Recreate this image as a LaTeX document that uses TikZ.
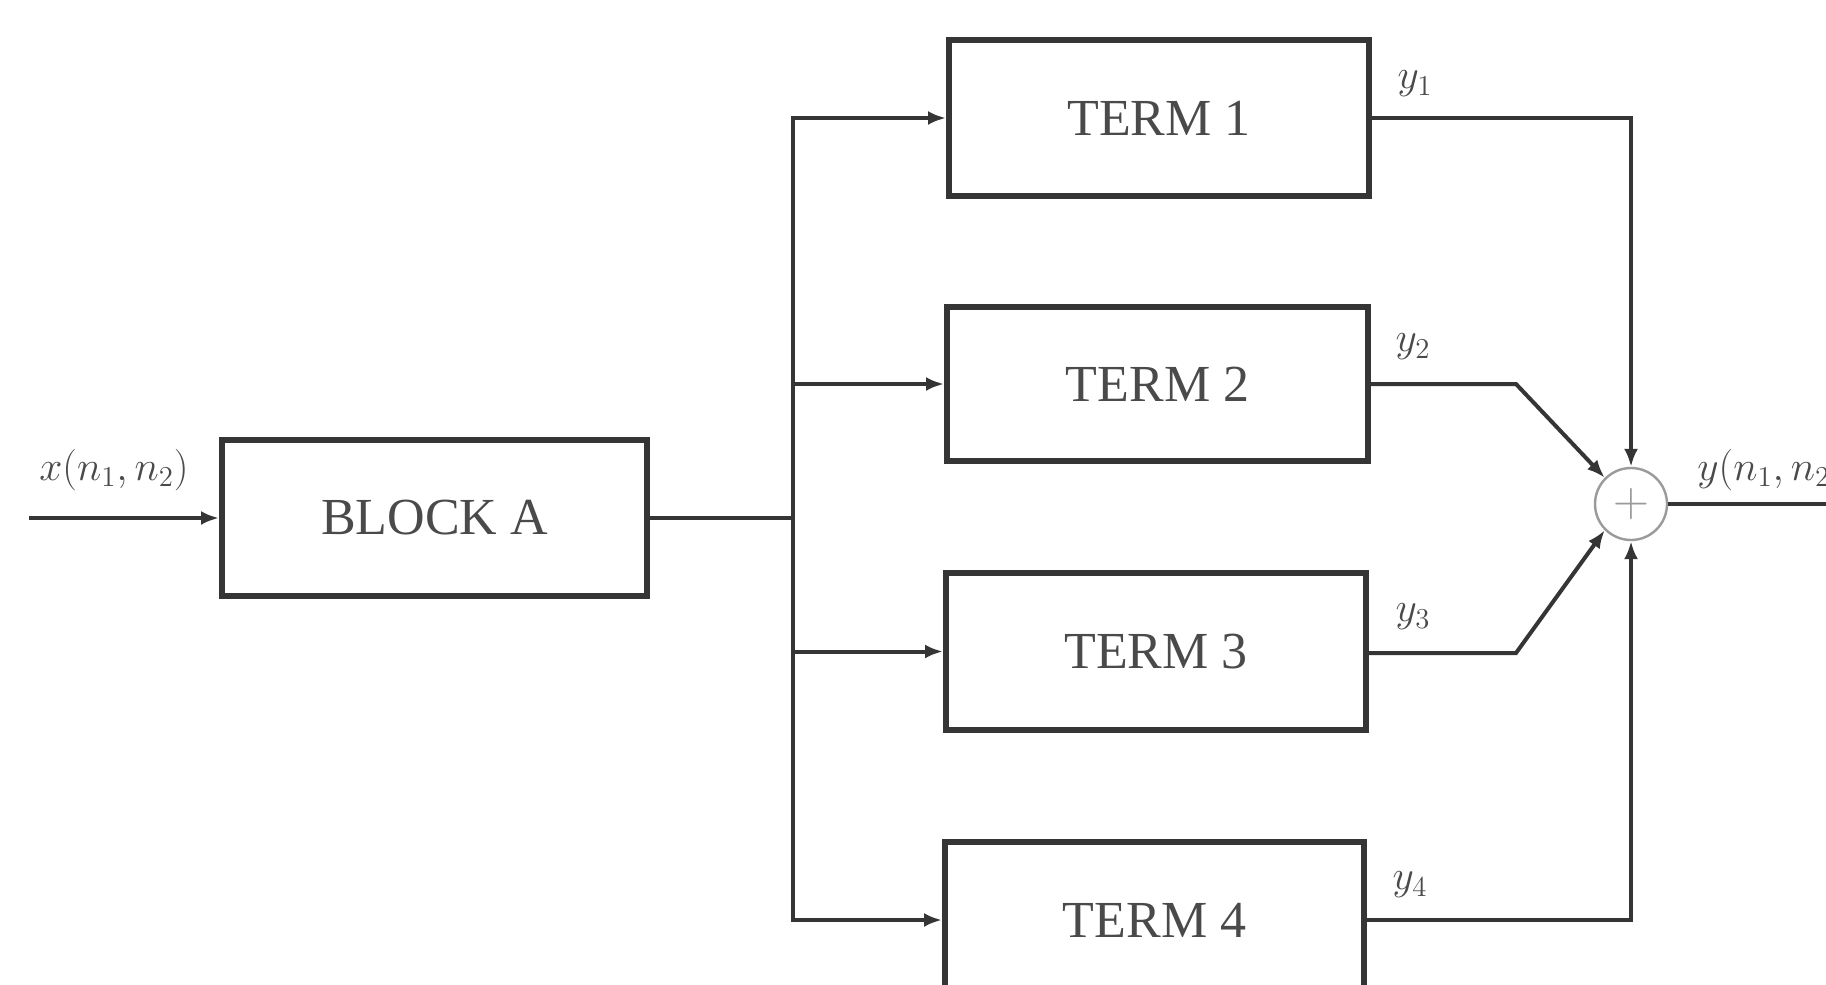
\documentclass[tikz,border=0pt]{standalone}
\usepackage{fontspec}
\setmainfont{Liberation Serif}
\usetikzlibrary{arrows.meta}
\definecolor{ink}{HTML}{353535}
\definecolor{txt}{HTML}{4A4A4A}
\definecolor{ring}{HTML}{9A9A9A}
\tikzset{
  blk/.style={draw=ink, line width=3pt, fill=white, inner sep=0pt,
    font=\fontsize{26}{30}\selectfont, text=txt},
  conn/.style={draw=ink, line width=2pt},
  arr/.style={conn, -{Latex[length=9pt,width=7pt]}},
  lbl/.style={font=\fontsize{21}{24}\selectfont, text=txt, inner sep=0pt},
}
\begin{document}
\begin{tikzpicture}[x=0.5pt,y=-0.5pt]
\useasboundingbox (0,0) rectangle (1826,985);
\clip (0,0) rectangle (1826,985);
\fill[white] (0,0) rectangle (1826,985);

\node[blk, minimum width=212.5pt, minimum height=78pt] (A) at (434.5,518) {BLOCK A};
\node[blk, minimum width=210pt, minimum height=78pt] (T1) at (1159,118) {TERM 1};
\node[blk, minimum width=210.5pt, minimum height=77pt] (T2) at (1157.5,384) {TERM 2};
\node[blk, minimum width=210pt, minimum height=78.5pt] (T3) at (1156,651.5) {TERM 3};
\node[blk, minimum width=209.5pt, minimum height=78pt] (T4) at (1154.5,920) {TERM 4};

\node[circle, draw=ring, line width=1.2pt, minimum size=36pt, inner sep=0pt,
      font=\fontsize{24}{24}\selectfont, text=ring] (S) at (1631,504) {$+$};

\coordinate (in) at (29,518);
\coordinate (bus) at (793,518);
\coordinate (k2) at (1516,384);
\coordinate (k3) at (1516,653);
\coordinate (out) at (1830,504);

\draw[arr] (in) -- (A.west |- in);
\draw[conn] (A.east) -- (bus);
\draw[arr] (bus) |- (T1.west);
\draw[arr] (bus) |- (T2.west);
\draw[arr] (bus) |- (T3.west);
\draw[arr] (bus) |- (T4.west);

\draw[arr] (T1.east) -| (S.north);
\draw[arr] (T2.east) -- (k2) -- (S.135);
\draw[arr] (T3.east |- k3) -- (k3) -- (S.225);
\draw[arr] (T4.east) -| (S.south);
\draw[conn] (S.east) -- (out);

\node[lbl] (lx) at (114,470) {$x(n_1,n_2)$};
\node[lbl, anchor=west] (ly) at (1697,470) {$y(n_1,n_2)$};
\node[lbl] (l1) at (1415,84) {$y_1$};
\node[lbl] (l2) at (1413,347) {$y_2$};
\node[lbl] (l3) at (1413,617) {$y_3$};
\node[lbl] (l4) at (1410,885) {$y_4$};
\end{tikzpicture}
\end{document}
